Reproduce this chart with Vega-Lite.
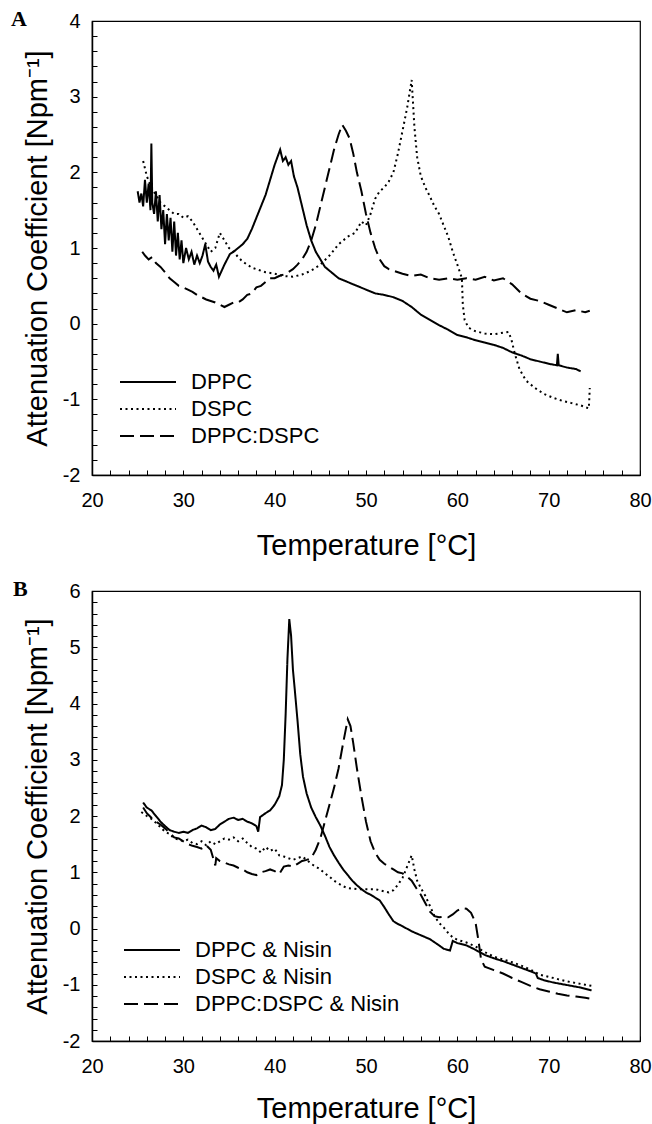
{
"$schema": "https://vega.github.io/schema/vega-lite/v6.json",
"background": "white",
"padding": {"left": 10, "top": 7, "right": 4, "bottom": 2},
"spacing": 16,
"resolve": {"scale": {"strokeDash": "independent"}, "legend": {"strokeDash": "independent"}},
"config": {
 "view": {"stroke": "black", "strokeWidth": 1.2},
 "font": "Liberation Sans",
 "axis": {"domainColor": "black", "domainWidth": 1.5, "tickColor": "black", "tickSize": -5, "tickWidth": 1, "labelColor": "black", "labelFont": "Liberation Sans", "labelFontSize": 20, "titleFont": "Liberation Sans", "titleFontSize": 29, "titleFontWeight": "normal", "titleColor": "black", "grid": false, "labelFlush": false, "labelOverlap": false},
 "legend": {"padding": 0, "labelFont": "Liberation Sans", "labelFontSize": 22, "labelColor": "black", "labelLimit": 400, "symbolType": "stroke", "symbolSize": 3136, "symbolStrokeWidth": 2, "symbolStrokeColor": "black", "clipHeight": 22, "rowPadding": 5, "labelOffset": 14, "title": null}
},
"datasets": {
 "A": [
{"s":"DPPC","t":25.0,"v":1.75},{"s":"DPPC","t":25.2,"v":1.6},{"s":"DPPC","t":25.4,"v":1.72},{"s":"DPPC","t":25.6,"v":1.55},{"s":"DPPC","t":25.8,"v":1.9},{"s":"DPPC","t":26.0,"v":1.6},{"s":"DPPC","t":26.2,"v":1.85},{"s":"DPPC","t":26.4,"v":1.5},{"s":"DPPC","t":26.5,"v":2.38},{"s":"DPPC","t":26.6,"v":1.6},{"s":"DPPC","t":26.8,"v":1.45},{"s":"DPPC","t":27.0,"v":1.75},{"s":"DPPC","t":27.2,"v":1.35},{"s":"DPPC","t":27.4,"v":1.7},{"s":"DPPC","t":27.6,"v":1.25},{"s":"DPPC","t":27.8,"v":1.5},{"s":"DPPC","t":28.0,"v":1.05},{"s":"DPPC","t":28.2,"v":1.45},{"s":"DPPC","t":28.4,"v":1.1},{"s":"DPPC","t":28.6,"v":1.4},{"s":"DPPC","t":28.8,"v":0.95},{"s":"DPPC","t":29.0,"v":1.35},{"s":"DPPC","t":29.2,"v":0.9},{"s":"DPPC","t":29.4,"v":1.2},{"s":"DPPC","t":29.6,"v":0.85},{"s":"DPPC","t":29.8,"v":1.1},{"s":"DPPC","t":30.0,"v":0.8},{"s":"DPPC","t":30.3,"v":1.0},{"s":"DPPC","t":30.6,"v":0.85},{"s":"DPPC","t":30.9,"v":0.95},{"s":"DPPC","t":31.2,"v":0.78},{"s":"DPPC","t":31.5,"v":0.9},{"s":"DPPC","t":31.8,"v":0.8},{"s":"DPPC","t":32.1,"v":0.9},{"s":"DPPC","t":32.4,"v":1.05},{"s":"DPPC","t":32.7,"v":0.82},{"s":"DPPC","t":33.0,"v":0.75},{"s":"DPPC","t":33.3,"v":0.7},{"s":"DPPC","t":33.6,"v":0.78},{"s":"DPPC","t":33.9,"v":0.62},{"s":"DPPC","t":34.2,"v":0.7},{"s":"DPPC","t":34.5,"v":0.78},{"s":"DPPC","t":34.8,"v":0.85},{"s":"DPPC","t":35.1,"v":0.92},{"s":"DPPC","t":35.5,"v":0.95},{"s":"DPPC","t":36.0,"v":1.0},{"s":"DPPC","t":36.5,"v":1.05},{"s":"DPPC","t":37.0,"v":1.12},{"s":"DPPC","t":37.5,"v":1.25},{"s":"DPPC","t":38.0,"v":1.4},{"s":"DPPC","t":38.5,"v":1.55},{"s":"DPPC","t":39.0,"v":1.7},{"s":"DPPC","t":39.5,"v":1.9},{"s":"DPPC","t":40.0,"v":2.1},{"s":"DPPC","t":40.3,"v":2.2},{"s":"DPPC","t":40.6,"v":2.3},{"s":"DPPC","t":40.9,"v":2.15},{"s":"DPPC","t":41.2,"v":2.2},{"s":"DPPC","t":41.5,"v":2.1},{"s":"DPPC","t":41.8,"v":2.15},{"s":"DPPC","t":42.1,"v":1.95},{"s":"DPPC","t":42.5,"v":1.8},{"s":"DPPC","t":43.0,"v":1.55},{"s":"DPPC","t":43.5,"v":1.3},{"s":"DPPC","t":44.0,"v":1.1},{"s":"DPPC","t":44.5,"v":0.95},{"s":"DPPC","t":45.0,"v":0.85},{"s":"DPPC","t":45.5,"v":0.75},{"s":"DPPC","t":46.0,"v":0.7},{"s":"DPPC","t":46.5,"v":0.65},{"s":"DPPC","t":47.0,"v":0.6},{"s":"DPPC","t":48.0,"v":0.55},{"s":"DPPC","t":49.0,"v":0.5},{"s":"DPPC","t":50.0,"v":0.45},{"s":"DPPC","t":51.0,"v":0.4},{"s":"DPPC","t":52.0,"v":0.38},{"s":"DPPC","t":53.0,"v":0.35},{"s":"DPPC","t":54.0,"v":0.3},{"s":"DPPC","t":55.0,"v":0.22},{"s":"DPPC","t":56.0,"v":0.12},{"s":"DPPC","t":57.0,"v":0.05},{"s":"DPPC","t":58.0,"v":-0.02},{"s":"DPPC","t":59.0,"v":-0.08},{"s":"DPPC","t":60.0,"v":-0.15},{"s":"DPPC","t":61.0,"v":-0.18},{"s":"DPPC","t":62.0,"v":-0.22},{"s":"DPPC","t":63.0,"v":-0.25},{"s":"DPPC","t":64.0,"v":-0.28},{"s":"DPPC","t":65.0,"v":-0.32},{"s":"DPPC","t":66.0,"v":-0.38},{"s":"DPPC","t":67.0,"v":-0.42},{"s":"DPPC","t":68.0,"v":-0.47},{"s":"DPPC","t":69.0,"v":-0.5},{"s":"DPPC","t":70.0,"v":-0.53},{"s":"DPPC","t":70.9,"v":-0.55},{"s":"DPPC","t":71.0,"v":-0.4},{"s":"DPPC","t":71.1,"v":-0.55},{"s":"DPPC","t":72.0,"v":-0.58},{"s":"DPPC","t":73.0,"v":-0.6},{"s":"DPPC","t":73.5,"v":-0.63},
{"s":"DSPC","t":25.6,"v":2.15},{"s":"DSPC","t":26.0,"v":1.95},{"s":"DSPC","t":26.5,"v":1.8},{"s":"DSPC","t":27.0,"v":1.7},{"s":"DSPC","t":27.5,"v":1.6},{"s":"DSPC","t":28.0,"v":1.55},{"s":"DSPC","t":28.5,"v":1.5},{"s":"DSPC","t":29.0,"v":1.45},{"s":"DSPC","t":29.5,"v":1.45},{"s":"DSPC","t":30.0,"v":1.4},{"s":"DSPC","t":30.5,"v":1.42},{"s":"DSPC","t":31.0,"v":1.35},{"s":"DSPC","t":31.5,"v":1.25},{"s":"DSPC","t":32.0,"v":1.15},{"s":"DSPC","t":32.5,"v":1.05},{"s":"DSPC","t":33.0,"v":0.95},{"s":"DSPC","t":33.5,"v":1.0},{"s":"DSPC","t":34.0,"v":1.2},{"s":"DSPC","t":34.5,"v":1.1},{"s":"DSPC","t":35.0,"v":1.0},{"s":"DSPC","t":35.5,"v":0.95},{"s":"DSPC","t":36.0,"v":0.88},{"s":"DSPC","t":36.5,"v":0.82},{"s":"DSPC","t":37.0,"v":0.78},{"s":"DSPC","t":37.5,"v":0.74},{"s":"DSPC","t":38.0,"v":0.72},{"s":"DSPC","t":39.0,"v":0.68},{"s":"DSPC","t":40.0,"v":0.66},{"s":"DSPC","t":41.0,"v":0.63},{"s":"DSPC","t":42.0,"v":0.62},{"s":"DSPC","t":43.0,"v":0.65},{"s":"DSPC","t":44.0,"v":0.7},{"s":"DSPC","t":45.0,"v":0.78},{"s":"DSPC","t":46.0,"v":0.9},{"s":"DSPC","t":47.0,"v":1.05},{"s":"DSPC","t":48.0,"v":1.15},{"s":"DSPC","t":48.8,"v":1.2},{"s":"DSPC","t":49.5,"v":1.35},{"s":"DSPC","t":50.0,"v":1.3},{"s":"DSPC","t":50.5,"v":1.45},{"s":"DSPC","t":51.0,"v":1.65},{"s":"DSPC","t":51.5,"v":1.75},{"s":"DSPC","t":52.0,"v":1.8},{"s":"DSPC","t":52.5,"v":1.88},{"s":"DSPC","t":53.0,"v":2.0},{"s":"DSPC","t":53.5,"v":2.25},{"s":"DSPC","t":54.0,"v":2.55},{"s":"DSPC","t":54.5,"v":2.85},{"s":"DSPC","t":55.0,"v":3.22},{"s":"DSPC","t":55.3,"v":2.6},{"s":"DSPC","t":55.6,"v":2.2},{"s":"DSPC","t":56.0,"v":1.95},{"s":"DSPC","t":56.5,"v":1.8},{"s":"DSPC","t":57.0,"v":1.68},{"s":"DSPC","t":57.5,"v":1.55},{"s":"DSPC","t":58.0,"v":1.45},{"s":"DSPC","t":58.5,"v":1.3},{"s":"DSPC","t":59.0,"v":1.15},{"s":"DSPC","t":59.5,"v":0.95},{"s":"DSPC","t":60.0,"v":0.78},{"s":"DSPC","t":60.5,"v":0.6},{"s":"DSPC","t":60.6,"v":0.25},{"s":"DSPC","t":60.8,"v":0.05},{"s":"DSPC","t":61.2,"v":-0.05},{"s":"DSPC","t":61.6,"v":-0.08},{"s":"DSPC","t":62.0,"v":-0.1},{"s":"DSPC","t":63.0,"v":-0.13},{"s":"DSPC","t":64.0,"v":-0.14},{"s":"DSPC","t":65.0,"v":-0.12},{"s":"DSPC","t":65.6,"v":-0.11},{"s":"DSPC","t":65.9,"v":-0.2},{"s":"DSPC","t":66.3,"v":-0.4},{"s":"DSPC","t":66.8,"v":-0.6},{"s":"DSPC","t":67.5,"v":-0.75},{"s":"DSPC","t":68.5,"v":-0.85},{"s":"DSPC","t":69.5,"v":-0.93},{"s":"DSPC","t":70.5,"v":-0.98},{"s":"DSPC","t":71.5,"v":-1.02},{"s":"DSPC","t":72.5,"v":-1.05},{"s":"DSPC","t":73.5,"v":-1.08},{"s":"DSPC","t":74.4,"v":-1.12},{"s":"DSPC","t":74.5,"v":-0.85},
{"s":"DPPC:DSPC","t":25.5,"v":0.95},{"s":"DPPC:DSPC","t":25.8,"v":0.9},{"s":"DPPC:DSPC","t":26.2,"v":0.85},{"s":"DPPC:DSPC","t":26.6,"v":0.88},{"s":"DPPC:DSPC","t":27.0,"v":0.8},{"s":"DPPC:DSPC","t":27.5,"v":0.75},{"s":"DPPC:DSPC","t":28.0,"v":0.68},{"s":"DPPC:DSPC","t":28.5,"v":0.6},{"s":"DPPC:DSPC","t":29.0,"v":0.55},{"s":"DPPC:DSPC","t":29.5,"v":0.5},{"s":"DPPC:DSPC","t":30.0,"v":0.48},{"s":"DPPC:DSPC","t":30.5,"v":0.45},{"s":"DPPC:DSPC","t":31.0,"v":0.42},{"s":"DPPC:DSPC","t":31.5,"v":0.38},{"s":"DPPC:DSPC","t":32.0,"v":0.35},{"s":"DPPC:DSPC","t":32.5,"v":0.32},{"s":"DPPC:DSPC","t":33.0,"v":0.3},{"s":"DPPC:DSPC","t":33.5,"v":0.28},{"s":"DPPC:DSPC","t":34.0,"v":0.25},{"s":"DPPC:DSPC","t":34.5,"v":0.22},{"s":"DPPC:DSPC","t":35.0,"v":0.25},{"s":"DPPC:DSPC","t":35.5,"v":0.28},{"s":"DPPC:DSPC","t":36.0,"v":0.28},{"s":"DPPC:DSPC","t":36.5,"v":0.32},{"s":"DPPC:DSPC","t":37.0,"v":0.38},{"s":"DPPC:DSPC","t":37.5,"v":0.4},{"s":"DPPC:DSPC","t":38.0,"v":0.48},{"s":"DPPC:DSPC","t":38.5,"v":0.5},{"s":"DPPC:DSPC","t":39.0,"v":0.55},{"s":"DPPC:DSPC","t":39.5,"v":0.6},{"s":"DPPC:DSPC","t":40.0,"v":0.6},{"s":"DPPC:DSPC","t":40.5,"v":0.63},{"s":"DPPC:DSPC","t":41.0,"v":0.65},{"s":"DPPC:DSPC","t":41.5,"v":0.68},{"s":"DPPC:DSPC","t":42.0,"v":0.72},{"s":"DPPC:DSPC","t":42.5,"v":0.78},{"s":"DPPC:DSPC","t":43.0,"v":0.85},{"s":"DPPC:DSPC","t":43.5,"v":0.95},{"s":"DPPC:DSPC","t":44.0,"v":1.1},{"s":"DPPC:DSPC","t":44.5,"v":1.3},{"s":"DPPC:DSPC","t":45.0,"v":1.55},{"s":"DPPC:DSPC","t":45.5,"v":1.8},{"s":"DPPC:DSPC","t":46.0,"v":2.05},{"s":"DPPC:DSPC","t":46.5,"v":2.3},{"s":"DPPC:DSPC","t":47.0,"v":2.5},{"s":"DPPC:DSPC","t":47.4,"v":2.63},{"s":"DPPC:DSPC","t":47.8,"v":2.55},{"s":"DPPC:DSPC","t":48.2,"v":2.45},{"s":"DPPC:DSPC","t":48.6,"v":2.25},{"s":"DPPC:DSPC","t":49.0,"v":2.0},{"s":"DPPC:DSPC","t":49.5,"v":1.75},{"s":"DPPC:DSPC","t":50.0,"v":1.45},{"s":"DPPC:DSPC","t":50.5,"v":1.2},{"s":"DPPC:DSPC","t":51.0,"v":1.0},{"s":"DPPC:DSPC","t":51.5,"v":0.85},{"s":"DPPC:DSPC","t":52.0,"v":0.76},{"s":"DPPC:DSPC","t":52.5,"v":0.72},{"s":"DPPC:DSPC","t":53.0,"v":0.7},{"s":"DPPC:DSPC","t":54.0,"v":0.66},{"s":"DPPC:DSPC","t":55.0,"v":0.63},{"s":"DPPC:DSPC","t":56.0,"v":0.65},{"s":"DPPC:DSPC","t":57.0,"v":0.6},{"s":"DPPC:DSPC","t":58.0,"v":0.58},{"s":"DPPC:DSPC","t":59.0,"v":0.6},{"s":"DPPC:DSPC","t":60.0,"v":0.58},{"s":"DPPC:DSPC","t":61.0,"v":0.6},{"s":"DPPC:DSPC","t":62.0,"v":0.58},{"s":"DPPC:DSPC","t":63.0,"v":0.62},{"s":"DPPC:DSPC","t":64.0,"v":0.57},{"s":"DPPC:DSPC","t":65.0,"v":0.6},{"s":"DPPC:DSPC","t":66.0,"v":0.52},{"s":"DPPC:DSPC","t":67.0,"v":0.4},{"s":"DPPC:DSPC","t":68.0,"v":0.33},{"s":"DPPC:DSPC","t":69.0,"v":0.3},{"s":"DPPC:DSPC","t":70.0,"v":0.25},{"s":"DPPC:DSPC","t":71.0,"v":0.2},{"s":"DPPC:DSPC","t":72.0,"v":0.15},{"s":"DPPC:DSPC","t":73.0,"v":0.18},{"s":"DPPC:DSPC","t":74.0,"v":0.15},{"s":"DPPC:DSPC","t":74.5,"v":0.17}
 ],
 "B": [
{"s":"DPPC & Nisin","t":25.6,"v":2.24},{"s":"DPPC & Nisin","t":26.0,"v":2.15},{"s":"DPPC & Nisin","t":26.5,"v":2.1},{"s":"DPPC & Nisin","t":27.0,"v":2.0},{"s":"DPPC & Nisin","t":27.5,"v":1.9},{"s":"DPPC & Nisin","t":28.0,"v":1.82},{"s":"DPPC & Nisin","t":28.5,"v":1.75},{"s":"DPPC & Nisin","t":29.0,"v":1.72},{"s":"DPPC & Nisin","t":29.5,"v":1.7},{"s":"DPPC & Nisin","t":30.0,"v":1.72},{"s":"DPPC & Nisin","t":30.5,"v":1.7},{"s":"DPPC & Nisin","t":31.0,"v":1.75},{"s":"DPPC & Nisin","t":31.5,"v":1.78},{"s":"DPPC & Nisin","t":32.0,"v":1.83},{"s":"DPPC & Nisin","t":32.5,"v":1.8},{"s":"DPPC & Nisin","t":33.0,"v":1.75},{"s":"DPPC & Nisin","t":33.5,"v":1.77},{"s":"DPPC & Nisin","t":34.0,"v":1.85},{"s":"DPPC & Nisin","t":34.5,"v":1.9},{"s":"DPPC & Nisin","t":35.0,"v":1.95},{"s":"DPPC & Nisin","t":35.5,"v":1.97},{"s":"DPPC & Nisin","t":36.0,"v":1.93},{"s":"DPPC & Nisin","t":36.5,"v":1.95},{"s":"DPPC & Nisin","t":37.0,"v":1.9},{"s":"DPPC & Nisin","t":37.5,"v":1.87},{"s":"DPPC & Nisin","t":38.0,"v":1.82},{"s":"DPPC & Nisin","t":38.2,"v":1.72},{"s":"DPPC & Nisin","t":38.4,"v":1.98},{"s":"DPPC & Nisin","t":39.0,"v":2.05},{"s":"DPPC & Nisin","t":39.5,"v":2.1},{"s":"DPPC & Nisin","t":40.0,"v":2.2},{"s":"DPPC & Nisin","t":40.5,"v":2.35},{"s":"DPPC & Nisin","t":40.8,"v":2.55},{"s":"DPPC & Nisin","t":41.0,"v":3.0},{"s":"DPPC & Nisin","t":41.2,"v":3.8},{"s":"DPPC & Nisin","t":41.4,"v":4.8},{"s":"DPPC & Nisin","t":41.6,"v":5.5},{"s":"DPPC & Nisin","t":41.8,"v":5.2},{"s":"DPPC & Nisin","t":42.0,"v":4.6},{"s":"DPPC & Nisin","t":42.2,"v":4.25},{"s":"DPPC & Nisin","t":42.5,"v":3.7},{"s":"DPPC & Nisin","t":42.8,"v":3.1},{"s":"DPPC & Nisin","t":43.1,"v":2.7},{"s":"DPPC & Nisin","t":43.5,"v":2.4},{"s":"DPPC & Nisin","t":44.0,"v":2.15},{"s":"DPPC & Nisin","t":44.5,"v":1.98},{"s":"DPPC & Nisin","t":45.0,"v":1.83},{"s":"DPPC & Nisin","t":45.5,"v":1.65},{"s":"DPPC & Nisin","t":46.0,"v":1.45},{"s":"DPPC & Nisin","t":46.5,"v":1.3},{"s":"DPPC & Nisin","t":47.0,"v":1.17},{"s":"DPPC & Nisin","t":47.5,"v":1.05},{"s":"DPPC & Nisin","t":48.0,"v":0.95},{"s":"DPPC & Nisin","t":48.5,"v":0.85},{"s":"DPPC & Nisin","t":49.0,"v":0.77},{"s":"DPPC & Nisin","t":49.5,"v":0.7},{"s":"DPPC & Nisin","t":50.0,"v":0.64},{"s":"DPPC & Nisin","t":50.5,"v":0.6},{"s":"DPPC & Nisin","t":51.0,"v":0.55},{"s":"DPPC & Nisin","t":51.5,"v":0.5},{"s":"DPPC & Nisin","t":52.0,"v":0.38},{"s":"DPPC & Nisin","t":52.5,"v":0.25},{"s":"DPPC & Nisin","t":53.0,"v":0.13},{"s":"DPPC & Nisin","t":53.5,"v":0.08},{"s":"DPPC & Nisin","t":54.0,"v":0.04},{"s":"DPPC & Nisin","t":55.0,"v":-0.05},{"s":"DPPC & Nisin","t":56.0,"v":-0.12},{"s":"DPPC & Nisin","t":57.0,"v":-0.19},{"s":"DPPC & Nisin","t":58.0,"v":-0.3},{"s":"DPPC & Nisin","t":58.5,"v":-0.36},{"s":"DPPC & Nisin","t":59.2,"v":-0.39},{"s":"DPPC & Nisin","t":59.5,"v":-0.22},{"s":"DPPC & Nisin","t":60.0,"v":-0.26},{"s":"DPPC & Nisin","t":61.0,"v":-0.3},{"s":"DPPC & Nisin","t":62.0,"v":-0.38},{"s":"DPPC & Nisin","t":63.0,"v":-0.47},{"s":"DPPC & Nisin","t":64.0,"v":-0.53},{"s":"DPPC & Nisin","t":65.0,"v":-0.58},{"s":"DPPC & Nisin","t":66.0,"v":-0.64},{"s":"DPPC & Nisin","t":67.0,"v":-0.7},{"s":"DPPC & Nisin","t":68.0,"v":-0.76},{"s":"DPPC & Nisin","t":68.6,"v":-0.8},{"s":"DPPC & Nisin","t":68.8,"v":-0.88},{"s":"DPPC & Nisin","t":69.5,"v":-0.92},{"s":"DPPC & Nisin","t":70.5,"v":-0.96},{"s":"DPPC & Nisin","t":71.5,"v":-0.99},{"s":"DPPC & Nisin","t":72.5,"v":-1.02},{"s":"DPPC & Nisin","t":73.5,"v":-1.05},{"s":"DPPC & Nisin","t":74.7,"v":-1.1},
{"s":"DSPC & Nisin","t":25.4,"v":2.07},{"s":"DSPC & Nisin","t":26.0,"v":2.0},{"s":"DSPC & Nisin","t":26.5,"v":1.95},{"s":"DSPC & Nisin","t":27.0,"v":1.88},{"s":"DSPC & Nisin","t":27.5,"v":1.8},{"s":"DSPC & Nisin","t":28.0,"v":1.72},{"s":"DSPC & Nisin","t":28.5,"v":1.68},{"s":"DSPC & Nisin","t":29.0,"v":1.6},{"s":"DSPC & Nisin","t":29.5,"v":1.58},{"s":"DSPC & Nisin","t":30.0,"v":1.55},{"s":"DSPC & Nisin","t":30.5,"v":1.58},{"s":"DSPC & Nisin","t":31.0,"v":1.52},{"s":"DSPC & Nisin","t":31.5,"v":1.5},{"s":"DSPC & Nisin","t":32.0,"v":1.55},{"s":"DSPC & Nisin","t":32.5,"v":1.48},{"s":"DSPC & Nisin","t":33.0,"v":1.55},{"s":"DSPC & Nisin","t":33.5,"v":1.5},{"s":"DSPC & Nisin","t":34.0,"v":1.55},{"s":"DSPC & Nisin","t":34.5,"v":1.6},{"s":"DSPC & Nisin","t":35.0,"v":1.58},{"s":"DSPC & Nisin","t":35.5,"v":1.62},{"s":"DSPC & Nisin","t":36.0,"v":1.55},{"s":"DSPC & Nisin","t":36.5,"v":1.6},{"s":"DSPC & Nisin","t":37.0,"v":1.52},{"s":"DSPC & Nisin","t":37.5,"v":1.45},{"s":"DSPC & Nisin","t":38.0,"v":1.42},{"s":"DSPC & Nisin","t":38.5,"v":1.35},{"s":"DSPC & Nisin","t":39.0,"v":1.45},{"s":"DSPC & Nisin","t":39.5,"v":1.38},{"s":"DSPC & Nisin","t":40.0,"v":1.42},{"s":"DSPC & Nisin","t":40.5,"v":1.3},{"s":"DSPC & Nisin","t":41.0,"v":1.28},{"s":"DSPC & Nisin","t":41.5,"v":1.25},{"s":"DSPC & Nisin","t":42.0,"v":1.22},{"s":"DSPC & Nisin","t":42.5,"v":1.25},{"s":"DSPC & Nisin","t":43.0,"v":1.28},{"s":"DSPC & Nisin","t":43.5,"v":1.22},{"s":"DSPC & Nisin","t":44.0,"v":1.15},{"s":"DSPC & Nisin","t":44.5,"v":1.1},{"s":"DSPC & Nisin","t":45.0,"v":1.05},{"s":"DSPC & Nisin","t":45.5,"v":0.98},{"s":"DSPC & Nisin","t":46.0,"v":0.92},{"s":"DSPC & Nisin","t":46.5,"v":0.85},{"s":"DSPC & Nisin","t":47.0,"v":0.8},{"s":"DSPC & Nisin","t":47.5,"v":0.75},{"s":"DSPC & Nisin","t":48.0,"v":0.72},{"s":"DSPC & Nisin","t":49.0,"v":0.7},{"s":"DSPC & Nisin","t":50.0,"v":0.7},{"s":"DSPC & Nisin","t":51.0,"v":0.7},{"s":"DSPC & Nisin","t":52.0,"v":0.66},{"s":"DSPC & Nisin","t":52.5,"v":0.64},{"s":"DSPC & Nisin","t":53.0,"v":0.68},{"s":"DSPC & Nisin","t":53.5,"v":0.78},{"s":"DSPC & Nisin","t":54.0,"v":0.9},{"s":"DSPC & Nisin","t":54.5,"v":1.1},{"s":"DSPC & Nisin","t":55.0,"v":1.3},{"s":"DSPC & Nisin","t":55.3,"v":1.05},{"s":"DSPC & Nisin","t":55.6,"v":0.85},{"s":"DSPC & Nisin","t":56.0,"v":0.72},{"s":"DSPC & Nisin","t":56.5,"v":0.58},{"s":"DSPC & Nisin","t":57.0,"v":0.4},{"s":"DSPC & Nisin","t":57.5,"v":0.22},{"s":"DSPC & Nisin","t":58.0,"v":0.1},{"s":"DSPC & Nisin","t":58.5,"v":0.02},{"s":"DSPC & Nisin","t":59.0,"v":-0.08},{"s":"DSPC & Nisin","t":59.5,"v":-0.16},{"s":"DSPC & Nisin","t":60.0,"v":-0.2},{"s":"DSPC & Nisin","t":61.0,"v":-0.25},{"s":"DSPC & Nisin","t":62.0,"v":-0.32},{"s":"DSPC & Nisin","t":63.0,"v":-0.42},{"s":"DSPC & Nisin","t":64.0,"v":-0.5},{"s":"DSPC & Nisin","t":65.0,"v":-0.55},{"s":"DSPC & Nisin","t":66.0,"v":-0.6},{"s":"DSPC & Nisin","t":67.0,"v":-0.66},{"s":"DSPC & Nisin","t":68.0,"v":-0.73},{"s":"DSPC & Nisin","t":69.0,"v":-0.82},{"s":"DSPC & Nisin","t":70.0,"v":-0.86},{"s":"DSPC & Nisin","t":71.0,"v":-0.9},{"s":"DSPC & Nisin","t":72.0,"v":-0.94},{"s":"DSPC & Nisin","t":73.0,"v":-0.97},{"s":"DSPC & Nisin","t":74.0,"v":-1.0},{"s":"DSPC & Nisin","t":74.7,"v":-1.02},
{"s":"DPPC:DSPC & Nisin","t":25.6,"v":2.15},{"s":"DPPC:DSPC & Nisin","t":26.0,"v":2.05},{"s":"DPPC:DSPC & Nisin","t":26.5,"v":1.97},{"s":"DPPC:DSPC & Nisin","t":27.0,"v":1.9},{"s":"DPPC:DSPC & Nisin","t":27.5,"v":1.85},{"s":"DPPC:DSPC & Nisin","t":28.0,"v":1.78},{"s":"DPPC:DSPC & Nisin","t":28.5,"v":1.7},{"s":"DPPC:DSPC & Nisin","t":29.0,"v":1.62},{"s":"DPPC:DSPC & Nisin","t":29.5,"v":1.6},{"s":"DPPC:DSPC & Nisin","t":30.0,"v":1.55},{"s":"DPPC:DSPC & Nisin","t":30.5,"v":1.5},{"s":"DPPC:DSPC & Nisin","t":31.0,"v":1.47},{"s":"DPPC:DSPC & Nisin","t":31.5,"v":1.45},{"s":"DPPC:DSPC & Nisin","t":32.0,"v":1.42},{"s":"DPPC:DSPC & Nisin","t":32.5,"v":1.48},{"s":"DPPC:DSPC & Nisin","t":33.0,"v":1.4},{"s":"DPPC:DSPC & Nisin","t":33.5,"v":1.12},{"s":"DPPC:DSPC & Nisin","t":33.6,"v":1.25},{"s":"DPPC:DSPC & Nisin","t":34.0,"v":1.2},{"s":"DPPC:DSPC & Nisin","t":34.5,"v":1.17},{"s":"DPPC:DSPC & Nisin","t":35.0,"v":1.14},{"s":"DPPC:DSPC & Nisin","t":35.5,"v":1.12},{"s":"DPPC:DSPC & Nisin","t":36.0,"v":1.08},{"s":"DPPC:DSPC & Nisin","t":36.5,"v":1.05},{"s":"DPPC:DSPC & Nisin","t":37.0,"v":1.0},{"s":"DPPC:DSPC & Nisin","t":37.5,"v":0.97},{"s":"DPPC:DSPC & Nisin","t":38.0,"v":0.95},{"s":"DPPC:DSPC & Nisin","t":38.5,"v":1.0},{"s":"DPPC:DSPC & Nisin","t":39.0,"v":1.02},{"s":"DPPC:DSPC & Nisin","t":39.5,"v":1.05},{"s":"DPPC:DSPC & Nisin","t":40.0,"v":1.02},{"s":"DPPC:DSPC & Nisin","t":40.5,"v":0.97},{"s":"DPPC:DSPC & Nisin","t":41.0,"v":1.1},{"s":"DPPC:DSPC & Nisin","t":41.5,"v":1.12},{"s":"DPPC:DSPC & Nisin","t":42.0,"v":1.1},{"s":"DPPC:DSPC & Nisin","t":42.5,"v":1.15},{"s":"DPPC:DSPC & Nisin","t":43.0,"v":1.2},{"s":"DPPC:DSPC & Nisin","t":43.5,"v":1.22},{"s":"DPPC:DSPC & Nisin","t":44.0,"v":1.25},{"s":"DPPC:DSPC & Nisin","t":44.5,"v":1.4},{"s":"DPPC:DSPC & Nisin","t":45.0,"v":1.6},{"s":"DPPC:DSPC & Nisin","t":45.5,"v":1.9},{"s":"DPPC:DSPC & Nisin","t":46.0,"v":2.2},{"s":"DPPC:DSPC & Nisin","t":46.5,"v":2.5},{"s":"DPPC:DSPC & Nisin","t":47.0,"v":2.85},{"s":"DPPC:DSPC & Nisin","t":47.5,"v":3.3},{"s":"DPPC:DSPC & Nisin","t":48.0,"v":3.72},{"s":"DPPC:DSPC & Nisin","t":48.3,"v":3.6},{"s":"DPPC:DSPC & Nisin","t":48.6,"v":3.3},{"s":"DPPC:DSPC & Nisin","t":49.0,"v":2.85},{"s":"DPPC:DSPC & Nisin","t":49.5,"v":2.35},{"s":"DPPC:DSPC & Nisin","t":50.0,"v":1.9},{"s":"DPPC:DSPC & Nisin","t":50.5,"v":1.55},{"s":"DPPC:DSPC & Nisin","t":51.0,"v":1.35},{"s":"DPPC:DSPC & Nisin","t":51.5,"v":1.22},{"s":"DPPC:DSPC & Nisin","t":52.0,"v":1.15},{"s":"DPPC:DSPC & Nisin","t":52.5,"v":1.1},{"s":"DPPC:DSPC & Nisin","t":53.0,"v":1.05},{"s":"DPPC:DSPC & Nisin","t":53.5,"v":1.0},{"s":"DPPC:DSPC & Nisin","t":54.0,"v":0.98},{"s":"DPPC:DSPC & Nisin","t":54.5,"v":0.92},{"s":"DPPC:DSPC & Nisin","t":55.0,"v":0.85},{"s":"DPPC:DSPC & Nisin","t":55.5,"v":0.72},{"s":"DPPC:DSPC & Nisin","t":56.0,"v":0.6},{"s":"DPPC:DSPC & Nisin","t":56.5,"v":0.45},{"s":"DPPC:DSPC & Nisin","t":57.0,"v":0.3},{"s":"DPPC:DSPC & Nisin","t":57.5,"v":0.22},{"s":"DPPC:DSPC & Nisin","t":58.0,"v":0.2},{"s":"DPPC:DSPC & Nisin","t":58.5,"v":0.21},{"s":"DPPC:DSPC & Nisin","t":59.0,"v":0.2},{"s":"DPPC:DSPC & Nisin","t":59.5,"v":0.25},{"s":"DPPC:DSPC & Nisin","t":60.0,"v":0.32},{"s":"DPPC:DSPC & Nisin","t":60.5,"v":0.36},{"s":"DPPC:DSPC & Nisin","t":61.0,"v":0.35},{"s":"DPPC:DSPC & Nisin","t":61.5,"v":0.28},{"s":"DPPC:DSPC & Nisin","t":62.0,"v":0.1},{"s":"DPPC:DSPC & Nisin","t":62.3,"v":-0.2},{"s":"DPPC:DSPC & Nisin","t":62.6,"v":-0.55},{"s":"DPPC:DSPC & Nisin","t":63.0,"v":-0.68},{"s":"DPPC:DSPC & Nisin","t":64.0,"v":-0.74},{"s":"DPPC:DSPC & Nisin","t":65.0,"v":-0.8},{"s":"DPPC:DSPC & Nisin","t":66.0,"v":-0.88},{"s":"DPPC:DSPC & Nisin","t":67.0,"v":-0.95},{"s":"DPPC:DSPC & Nisin","t":68.0,"v":-1.02},{"s":"DPPC:DSPC & Nisin","t":69.0,"v":-1.08},{"s":"DPPC:DSPC & Nisin","t":70.0,"v":-1.12},{"s":"DPPC:DSPC & Nisin","t":71.0,"v":-1.16},{"s":"DPPC:DSPC & Nisin","t":72.0,"v":-1.19},{"s":"DPPC:DSPC & Nisin","t":73.0,"v":-1.21},{"s":"DPPC:DSPC & Nisin","t":74.0,"v":-1.23},{"s":"DPPC:DSPC & Nisin","t":74.7,"v":-1.25}
 ]
},
"vconcat": [
 {
  "width": 548, "height": 454,
  "title": {"text": "A", "anchor": "start", "frame": "group", "font": "Liberation Serif", "fontWeight": "bold", "fontSize": 22, "color": "black", "dx": -81, "offset": -37, "baseline": "alphabetic"},
  "data": {"name": "A"},
  "mark": {"type": "line", "color": "black", "strokeWidth": 2},
  "encoding": {
   "x": {"field": "t", "type": "quantitative", "scale": {"domain": [20, 80], "nice": false},
    "axis": {"title": "Temperature [°C]", "values": [20,22,24,26,28,30,32,34,36,38,40,42,44,46,48,50,52,54,56,58,60,62,64,66,68,70,72,74,76,78,80], "labelExpr": "datum.value % 10 === 0 ? '' + datum.value : ''", "labelPadding": 20, "titleY": 79, "titleBaseline": "alphabetic"}},
   "y": {"field": "v", "type": "quantitative", "scale": {"domain": [-2, 4], "nice": false, "zero": false},
    "axis": {"title": "Attenuation Coefficient [Npm⁻¹]", "values": [-2,-1.8,-1.6,-1.4,-1.2,-1,-0.8,-0.6,-0.4,-0.2,0,0.2,0.4,0.6,0.8,1,1.2,1.4,1.6,1.8,2,2.2,2.4,2.6,2.8,3,3.2,3.4,3.6,3.8,4], "labelExpr": "abs(datum.value - round(datum.value)) < 0.001 ? '' + round(datum.value) : ''", "labelPadding": 17, "titleX": -45.5, "titleBaseline": "alphabetic"}},
   "strokeDash": {"field": "s", "type": "nominal", "scale": {"domain": ["DPPC", "DSPC", "DPPC:DSPC"], "range": [[1, 0], [2, 3.5], [14, 6]]},
    "legend": {"orient": "none", "legendX": 27, "legendY": 350}}
  }
 },
 {
  "width": 548, "height": 450,
  "title": {"text": "B", "anchor": "start", "frame": "group", "font": "Liberation Serif", "fontWeight": "bold", "fontSize": 22, "color": "black", "dx": -79, "offset": -37, "baseline": "alphabetic"},
  "data": {"name": "B"},
  "mark": {"type": "line", "color": "black", "strokeWidth": 2},
  "encoding": {
   "x": {"field": "t", "type": "quantitative", "scale": {"domain": [20, 80], "nice": false},
    "axis": {"title": "Temperature [°C]", "values": [20,22,24,26,28,30,32,34,36,38,40,42,44,46,48,50,52,54,56,58,60,62,64,66,68,70,72,74,76,78,80], "labelExpr": "datum.value % 10 === 0 ? '' + datum.value : ''", "labelPadding": 20, "titleY": 76, "titleBaseline": "alphabetic"}},
   "y": {"field": "v", "type": "quantitative", "scale": {"domain": [-2, 6], "nice": false, "zero": false},
    "axis": {"title": "Attenuation Coefficient [Npm⁻¹]", "values": [-2,-1.8,-1.6,-1.4,-1.2,-1,-0.8,-0.6,-0.4,-0.2,0,0.2,0.4,0.6,0.8,1,1.2,1.4,1.6,1.8,2,2.2,2.4,2.6,2.8,3,3.2,3.4,3.6,3.8,4,4.2,4.4,4.6,4.8,5,5.2,5.4,5.6,5.8,6], "labelExpr": "abs(datum.value - round(datum.value)) < 0.001 ? '' + round(datum.value) : ''", "labelPadding": 17, "titleX": -45.5, "titleBaseline": "alphabetic"}},
   "strokeDash": {"field": "s", "type": "nominal", "scale": {"domain": ["DPPC & Nisin", "DSPC & Nisin", "DPPC:DSPC & Nisin"], "range": [[1, 0], [2, 3.5], [14, 6]]},
    "legend": {"orient": "none", "legendX": 31, "legendY": 348}}
  }
 }
]
}
